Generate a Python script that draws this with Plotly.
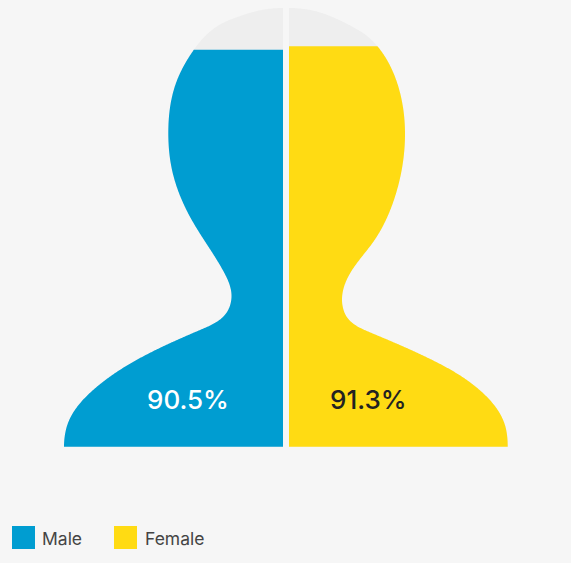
import numpy as np
import plotly.graph_objects as go

# Values shown in the chart
categories = ["Male", "Female"]
values = [90.5, 91.3]

# Silhouette outlines: height (% of figure height) and half-width from the centre gap
male_height = [0, 5.4, 12.9, 21.4, 26.6, 30.7, 34.1, 40.3, 51.7, 63.1, 71.5, 82.9, 90.2, 93.8, 96.6, 98.0, 99.1, 100]
male_width = [219, 215, 190, 133, 83, 56, 51.5, 60.3, 91.3, 111, 114.7, 107, 90, 77, 60, 45, 30, 0]
female_height = [0, 4.9, 12.5, 20.2, 25.9, 29.6, 33.4, 38.8, 46.7, 57.0, 71.5, 82.1, 91.2, 93.8, 95.9, 97.8, 99.2, 100]
female_width = [218.7, 216, 192.7, 139.3, 82.7, 57.7, 53, 59.3, 84.3, 106, 116, 109.3, 88.7, 77, 62, 45, 27.7, 0]

BACKGROUND = "#f6f6f6"
EMPTY = "#eeeeee"
COLORS = ["#009dd1", "#ffdb13"]
TEXT_COLORS = ["#ffffff", "#222222"]
FONT = "Inter, sans-serif"
WIDTH, HEIGHT = 571, 563
GAP = 3
Y_SCALE = 4.387  # pixels per percent of height


def clamped_spline(s, v, d0, d1, u):
    """Cubic spline through (s, v) with given end slopes, evaluated at u."""
    n = len(s)
    dx = np.diff(s)
    slope = np.diff(v) / dx
    A = np.zeros((n, n))
    b = np.zeros(n)
    A[0, :2] = 2 * dx[0], dx[0]
    b[0] = 6 * (slope[0] - d0)
    A[-1, -2:] = dx[-1], 2 * dx[-1]
    b[-1] = 6 * (d1 - slope[-1])
    for i in range(1, n - 1):
        A[i, i - 1:i + 2] = dx[i - 1], 2 * (dx[i - 1] + dx[i]), dx[i]
        b[i] = 6 * (slope[i] - slope[i - 1])
    m = np.linalg.solve(A, b)
    k = np.clip(np.searchsorted(s, u, side="right") - 1, 0, n - 2)
    t0, t1 = s[k + 1] - u, u - s[k]
    return (m[k] * t0 ** 3 + m[k + 1] * t1 ** 3) / (6 * dx[k]) \
        + (v[k] / dx[k] - m[k] * dx[k] / 6) * t0 + (v[k + 1] / dx[k] - m[k + 1] * dx[k] / 6) * t1


def smooth(h, w):
    """Smooth outline: leaves the base vertically and meets the crown horizontally."""
    hp = np.asarray(h, float) * Y_SCALE
    wp = np.asarray(w, float)
    s = np.concatenate([[0], np.cumsum(np.hypot(np.diff(hp), np.diff(wp)))])
    u = np.append(np.arange(0, s[-1], 1.0), s[-1])
    return clamped_spline(s, hp, 1, 0, u) / Y_SCALE, clamped_spline(s, wp, 0, -1, u)


def half_figure(h, w, side, level=None):
    """Closed polygon of one half of the figure, cut off at `level` percent."""
    ch, cw = smooth(h, w)
    if level is not None:
        keep = ch < level
        cut_width = np.interp(level, ch, cw)
        ch = np.append(ch[keep], level)
        cw = np.append(cw[keep], cut_width)
    xs = side * (GAP + np.concatenate([[0], cw, [0]]))
    ys = np.concatenate([[0], ch, [ch[-1]]])
    return xs, ys


fig = go.Figure()
outlines = [(male_height, male_width, -1), (female_height, female_width, 1)]
outline_style = dict(width=0, simplify=False)

for name, value, color, (h, w, side) in zip(categories, values, COLORS, outlines):
    x0, y0 = half_figure(h, w, side)
    fig.add_trace(go.Scatter(x=x0, y=y0, mode="lines", fill="toself", fillcolor=EMPTY,
                             line=outline_style, hoverinfo="skip", showlegend=False))
    x1, y1 = half_figure(h, w, side, value)
    fig.add_trace(go.Scatter(x=x1, y=y1, mode="lines", fill="toself", fillcolor=color,
                             line=outline_style, name=name, showlegend=False))

# Value labels inside the filled halves
label_x = [-98, 82]
for value, x, color in zip(values, label_x, TEXT_COLORS):
    fig.add_annotation(x=x, y=10.8, text=f"{value}%", showarrow=False,
                       font=dict(family=FONT, size=26, weight=500, color=color))

# Legend: colour squares and captions along the bottom
swatch_left = [12, 114]
caption_left = [40, 143]
for name, color, sx, cx in zip(categories, COLORS, swatch_left, caption_left):
    fig.add_shape(type="rect", xref="paper", yref="paper",
                  x0=sx / WIDTH, x1=(sx + 23) / WIDTH,
                  y0=1 - 549 / HEIGHT, y1=1 - 526 / HEIGHT,
                  fillcolor=color, line_width=0)
    fig.add_annotation(xref="paper", yref="paper", x=cx / WIDTH, y=1 - 538 / HEIGHT,
                       text=name, showarrow=False, xanchor="left", yanchor="middle",
                       font=dict(family=FONT, size=17.5, color="#444444"))

# One x unit is one pixel; y runs in percent of the figure height
fig.update_xaxes(range=[-286, 285], visible=False, fixedrange=True)
fig.update_yaxes(range=[-(HEIGHT - 446.7) / Y_SCALE, 446.7 / Y_SCALE], visible=False, fixedrange=True)
fig.update_layout(width=WIDTH, height=HEIGHT, margin=dict(l=0, r=0, t=0, b=0),
                  paper_bgcolor=BACKGROUND, plot_bgcolor=BACKGROUND, showlegend=False)

fig.write_html("out.html")
